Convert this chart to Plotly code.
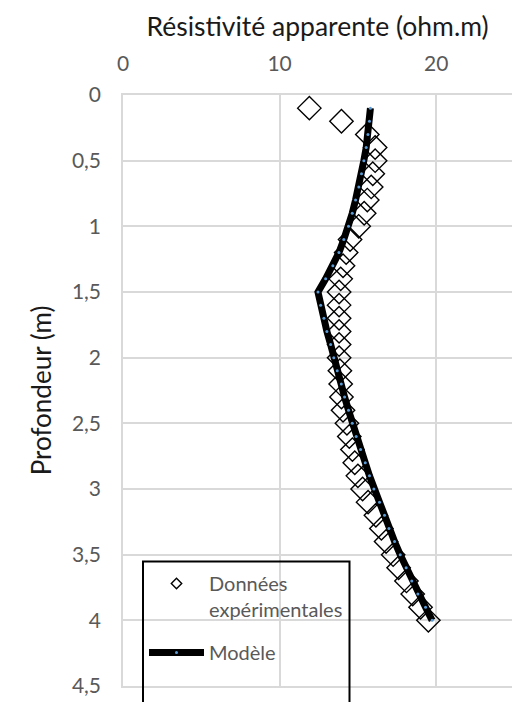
import plotly.graph_objects as go

# ---- data ----
depth_exp = [0.1, 0.2, 0.3, 0.4, 0.5, 0.6, 0.7, 0.8, 0.9, 1.0,
             1.1, 1.2, 1.3, 1.4, 1.5, 1.6, 1.7, 1.8, 1.9, 2.0,
             2.1, 2.2, 2.3, 2.4, 2.5, 2.6, 2.7, 2.8, 2.9, 3.0,
             3.1, 3.2, 3.3, 3.4, 3.5, 3.6, 3.7, 3.8, 3.9, 4.0]
rho_exp = [11.9, 13.95, 15.6, 16.1, 16.1, 15.95, 15.85, 15.6, 15.4, 15.05,
           14.5, 14.25, 14.05, 13.9, 13.8, 13.8, 13.8, 13.8, 13.8, 13.8,
           13.85, 13.9, 13.95, 14.05, 14.3, 14.45, 14.65, 14.8, 15.0, 15.3,
           15.65, 16.15, 16.5, 16.8, 17.25, 17.6, 18.1, 18.5, 19.0, 19.5]

depth_model = depth_exp
rho_model = [15.8, 15.74, 15.64, 15.53, 15.38, 15.23, 15.06, 14.85, 14.64, 14.4,
             14.1, 13.79, 13.4, 12.94, 12.45, 12.62, 12.83, 13.02, 13.26, 13.46,
             13.68, 13.94, 14.15, 14.4, 14.64, 14.89, 15.17, 15.47, 15.74, 16.02,
             16.38, 16.7, 16.98, 17.34, 17.7, 18.08, 18.44, 18.83, 19.32, 19.74]

x_tick_vals = [0, 10, 20]
x_tick_labels = ["0", "10", "20"]
y_tick_vals = [0, 0.5, 1, 1.5, 2, 2.5, 3, 3.5, 4, 4.5]
y_tick_labels = ["0", "0,5", "1", "1,5", "2", "2,5", "3", "3,5", "4", "4,5"]

name_exp = "Données<br>expérimentales"
name_model = "Modèle"
x_title = "Résistivité apparente (ohm.m)"
y_title = "Profondeur (m)"

FONT = "Lato"
GRID = "#d9d9d9"
TXT = "#595959"

fig = go.Figure()

fig.add_trace(go.Scatter(
    x=rho_exp, y=depth_exp, mode="markers", showlegend=False,
    marker=dict(symbol="diamond-open", size=18, color="black", line=dict(width=1.4)),
))
fig.add_trace(go.Scatter(
    x=rho_model, y=depth_model, mode="lines+markers", showlegend=False,
    line=dict(color="black", width=7),
    marker=dict(size=3, color="#5b9bd5"),
))
# legend entries
fig.add_trace(go.Scatter(
    x=[None], y=[None], mode="markers", name=name_exp, legendgroup="a",
    marker=dict(symbol="diamond-open", size=8, color="black", line=dict(width=1.4)),
))
fig.add_trace(go.Scatter(
    x=[None], y=[None], mode="lines+markers", name=name_model, legendgroup="b",
    line=dict(color="black", width=7),
    marker=dict(size=3, color="#5b9bd5"),
))

L, R, T, B = 123, 0, 95, 16
W, H = 512, 702
pw, ph = W - L - R, H - T - B

def px_x(p):
    return (p - L) / pw

def px_y(p):
    return (H - B - p) / ph

fig.add_shape(type="rect", xref="paper", yref="paper",
              x0=px_x(143), x1=px_x(349.5), y0=px_y(725), y1=px_y(561.5),
              line=dict(color="black", width=2), fillcolor="rgba(0,0,0,0)", layer="above")

fig.update_layout(
    width=W, height=H,
    margin=dict(l=L, r=R, t=T, b=B, autoexpand=False),
    paper_bgcolor="white", plot_bgcolor="white",
    font=dict(family=FONT, color=TXT, size=20),
    legend=dict(x=px_x(144), y=px_y(564), xanchor="left", yanchor="top",
                bgcolor="rgba(0,0,0,0)", borderwidth=0,
                font=dict(family=FONT, size=20, color=TXT),
                itemwidth=55, valign="top", tracegroupgap=14),
    xaxis=dict(side="top", range=[0, 24.84], tickvals=x_tick_vals, ticktext=x_tick_labels,
               showgrid=True, gridcolor=GRID, gridwidth=1.5, zeroline=False,
               showline=True, linecolor=GRID, linewidth=1.5, mirror=True,
               ticks="", ticklabelstandoff=14,
               title=dict(text=x_title, font=dict(family=FONT, size=26.5, color="#1a1a1a"), standoff=6),
               tickfont=dict(family=FONT, size=21, color=TXT)),
    yaxis=dict(range=[4.5, 0], tickvals=y_tick_vals, ticktext=y_tick_labels,
               showgrid=True, gridcolor=GRID, gridwidth=1.5, zeroline=False,
               showline=True, linecolor=GRID, linewidth=1.5,
               ticks="", ticklabelstandoff=16,
               title=dict(text=y_title, font=dict(family=FONT, size=26, color="#1a1a1a"), standoff=13),
               tickfont=dict(family=FONT, size=21, color=TXT)),
)

fig.write_html("out.html", config={"displayModeBar": False},
               post_script="document.body.style.margin='0px';")
